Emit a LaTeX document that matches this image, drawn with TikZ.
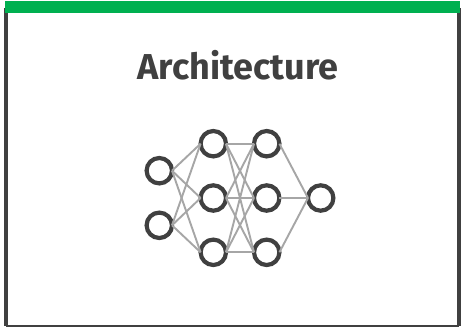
\documentclass[tikz,border=0pt]{standalone}
\usepackage{fontspec}
\setmainfont{Fira Sans}
\definecolor{dk}{HTML}{404040}
\definecolor{gr}{HTML}{00B050}
\definecolor{ed}{HTML}{A6A6A6}
\tikzset{x=1pt,y=-1pt,
 neuron/.style={circle,draw=dk,line width=4.2pt,fill=none,minimum size=25.4pt,inner sep=0pt,outer sep=0pt},
 link/.style={draw=ed,line width=1.9pt},
 frameline/.style={draw=dk,line width=4pt},
 title/.style={text=dk,font=\fontsize{36}{36}\bfseries\selectfont,inner sep=0pt,anchor=base}}
\begin{document}
\begin{tikzpicture}
\useasboundingbox (0,0) rectangle (461,327);
\fill[white] (0,0) rectangle (461,327);
\coordinate (fa) at (6.3,8);
\coordinate (fb) at (6.3,325.8);
\coordinate (fc) at (459,325.8);
\coordinate (fd) at (459,8);
\draw[frameline] (fa) -- (fb);
\draw[frameline] (fc) -- (fd);
\draw[frameline,line width=2.4pt] (fb) -- (fc);
\fill[gr] (5,1) rectangle (460,13);
\node[title] (t) at (238,79.5) {Architecture};
\node[neuron] (a1) at (159.3,170.7) {};
\node[neuron] (a2) at (159.3,225.3) {};
\node[neuron] (b1) at (213.3,143.7) {};
\node[neuron] (b2) at (213.3,198) {};
\node[neuron] (b3) at (213.3,252.3) {};
\node[neuron] (c1) at (266.7,143.7) {};
\node[neuron] (c2) at (266.7,198) {};
\node[neuron] (c3) at (266.7,252.3) {};
\node[neuron] (d1) at (320.7,198) {};
\foreach \u in {a1,a2}\foreach \v in {b1,b2,b3} \draw[link] (\u.east) -- (\v.west);
\foreach \u in {b1,b2,b3}\foreach \v in {c1,c2,c3} \draw[link] (\u.east) -- (\v.west);
\foreach \u in {c1,c2,c3} \draw[link] (\u.east) -- (d1.west);
\end{tikzpicture}
\end{document}
